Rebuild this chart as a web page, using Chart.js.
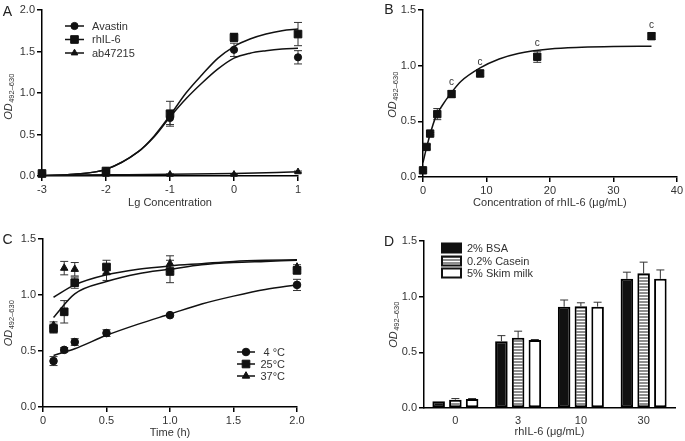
<!DOCTYPE html>
<html lang="en">
<head>
<meta charset="UTF-8">
<title>rhIL-6 ELISA panels</title>
<script src="https://cdn.jsdelivr.net/npm/chart.js@4.4.0/dist/chart.umd.min.js"></script>
<style>
  body { margin: 0; background: #fff; }
  .panel { position: absolute; }
</style>
</head>
<body>
<div class="panel" style="left:0;top:0"><canvas id="chartA" width="340" height="220"></canvas></div>
<div class="panel" style="left:340px;top:0"><canvas id="chartB" width="345" height="220"></canvas></div>
<div class="panel" style="left:0;top:220px"><canvas id="chartC" width="340" height="221"></canvas></div>
<div class="panel" style="left:340px;top:220px"><canvas id="chartD" width="345" height="221"></canvas></div>

<script>
// ---- panel A: Lg concentration ----
const aConc = [-3, -2, -1, 0, 1];
const aAvastin = [0.03, 0.06, 0.70, 1.52, 1.43];
const aAvastinErr = [0.01, 0.01, 0.08, 0.08, 0.08];
const aRhil6 = [0.03, 0.06, 0.75, 1.67, 1.71];
const aRhil6Err = [0.01, 0.01, 0.15, 0.05, 0.14];
const aAb47215 = [0.02, 0.02, 0.02, 0.02, 0.05];
const aAb47215Err = [0.005, 0.005, 0.005, 0.005, 0.01];
// fitted curves
const aFitX = [-3, -2.5, -2, -1.5, -1.25, -1, -0.75, -0.5, -0.25, 0, 0.25, 0.5, 0.75, 1];
const aFitRhil6 = [0.0, 0.02, 0.08, 0.29, 0.48, 0.73, 1.0, 1.22, 1.42, 1.56, 1.65, 1.71, 1.75, 1.77];
const aFitAvastin = [0.0, 0.02, 0.08, 0.29, 0.47, 0.71, 0.93, 1.12, 1.29, 1.42, 1.48, 1.51, 1.53, 1.54];
const aFitAbX = [-3, -2, -1, 0, 1];
const aFitAb = [0.01, 0.015, 0.02, 0.03, 0.05];

// ---- panel B: rhIL-6 concentration ----
const bConc = [0, 0.5625, 1.125, 2.25, 4.5, 9, 18, 36];
const bOD = [0.06, 0.27, 0.39, 0.565, 0.745, 0.93, 1.08, 1.265];
const bErr = [0.01, 0.02, 0.01, 0.05, 0.03, 0.03, 0.05, 0.03];
const bSig = ['', '', '', '', 'c', 'c', 'c', 'c'];
const bFitX = [0, 0.5, 1, 2, 3, 4.5, 6, 9, 12, 15, 20, 25, 30, 36];
const bFitY = [0.13, 0.25, 0.36, 0.54, 0.64, 0.76, 0.86, 0.98, 1.06, 1.11, 1.15, 1.165, 1.172, 1.175];

// ---- panel C: incubation time ----
const cTime = [0.083, 0.167, 0.25, 0.5, 1, 2];
const c4 = [0.41, 0.51, 0.58, 0.66, 0.82, 1.09];
const c4Err = [0.04, 0.02, 0.03, 0.03, 0.01, 0.05];
const c25 = [0.70, 0.85, 1.11, 1.25, 1.21, 1.22];
const c25Err = [0.04, 0.10, 0.05, 0.06, 0.10, 0.03];
const c37 = [0.73, 1.24, 1.23, 1.20, 1.28, 1.25];
const c37Err = [0.03, 0.06, 0.06, 0.07, 0.07, 0.02];
const cFitX = [0.083, 0.25, 0.5, 0.75, 1, 1.25, 1.5, 1.75, 2];
const cFit4 = [0.46, 0.52, 0.64, 0.74, 0.83, 0.92, 0.99, 1.05, 1.09];
const cFit25 = [0.80, 1.01, 1.12, 1.19, 1.23, 1.27, 1.29, 1.30, 1.31];
const cFit37 = [0.98, 1.09, 1.18, 1.23, 1.26, 1.28, 1.30, 1.31, 1.315];

// ---- panel D: blocking buffers ----
const dCats = ['0', '3', '10', '30'];
const dBSA = [0.06, 0.60, 0.91, 1.16];
const dBSAErr = [0, 0.05, 0.06, 0.06];
const dCasein = [0.075, 0.63, 0.915, 1.21];
const dCaseinErr = [0.01, 0.06, 0.03, 0.10];
const dSkim = [0.08, 0.61, 0.91, 1.16];
const dSkimErr = [0.005, 0.005, 0.04, 0.08];

const FONT = '"Liberation Sans", Arial, sans-serif';
const INK = '#111';
const TXT = '#333';
Chart.defaults.font.family = FONT;
Chart.defaults.font.size = 11;
Chart.defaults.color = TXT;
Chart.defaults.animation = false;

const fmt1 = v => v.toFixed(1);
const pts = (xs, ys) => xs.map((x, i) => ({ x: x, y: ys[i] }));

function axis(min, max, step, cb, size, title, tickPad) {
  return {
    type: 'linear', min: min, max: max,
    ticks: { stepSize: step, callback: cb, padding: tickPad || 2, color: TXT, font: { size: 11 } },
    grid: { drawOnChartArea: false, drawTicks: true, tickLength: 5, color: '#000', lineWidth: 1.5 },
    border: { display: true, color: '#000', width: 1.5 },
    title: title ? { display: true, text: title, color: TXT, font: { size: 11 }, padding: 0 } : { display: false },
    afterFit: s => { if (s.isHorizontal()) s.height = size; else s.width = size; }
  };
}

function markers(label, xs, ys, errs, style, r) {
  return {
    label: label, data: pts(xs, ys), errors: errs, showLine: false,
    pointStyle: style, pointRadius: r, pointHoverRadius: r,
    pointBackgroundColor: INK, pointBorderColor: INK, pointBorderWidth: 1,
    clip: false, order: 0
  };
}

function curve(xs, ys) {
  return {
    data: pts(xs, ys), showLine: true, pointRadius: 0, borderColor: INK, borderWidth: 1.5,
    cubicInterpolationMode: 'monotone', fill: false, order: 1
  };
}

function marker(ctx, style, x, y, r) {
  ctx.beginPath();
  if (style === 'circle') ctx.arc(x, y, r, 0, Math.PI * 2);
  else if (style === 'rect') { const s = r * Math.SQRT1_2; ctx.rect(x - s, y - s, 2 * s, 2 * s); }
  else { ctx.moveTo(x, y - r); ctx.lineTo(x + 0.866 * r, y + 0.5 * r); ctx.lineTo(x - 0.866 * r, y + 0.5 * r); ctx.closePath(); }
  ctx.fill();
  ctx.stroke();
}

// error bars drawn under the marks
const errorBars = {
  id: 'errorBars',
  beforeDatasetsDraw(chart) {
    const ctx = chart.ctx;
    const ys = chart.scales.y;
    ctx.save();
    ctx.strokeStyle = '#333';
    ctx.lineWidth = 1;
    chart.data.datasets.forEach((ds, di) => {
      if (!ds.errors) return;
      const meta = chart.getDatasetMeta(di);
      meta.data.forEach((el, i) => {
        const v = typeof ds.data[i] === 'object' ? ds.data[i].y : ds.data[i];
        const e = ds.errors[i];
        if (!e) return;
        const top = ys.getPixelForValue(v + e);
        const bot = ds.upOnly ? ys.getPixelForValue(v) : ys.getPixelForValue(v - e);
        const cap = ds.capHalf || 4;
        ctx.beginPath();
        ctx.moveTo(el.x, bot); ctx.lineTo(el.x, top);
        ctx.moveTo(el.x - cap, top); ctx.lineTo(el.x + cap, top);
        if (!ds.upOnly) { ctx.moveTo(el.x - cap, bot); ctx.lineTo(el.x + cap, bot); }
        ctx.stroke();
        if (ds.sig && ds.sig[i]) {
          ctx.fillStyle = TXT;
          ctx.font = '10px ' + FONT;
          ctx.textAlign = 'center';
          ctx.textBaseline = 'bottom';
          ctx.fillText(ds.sig[i], el.x, top - 3);
        }
      });
    });
    ctx.restore();
  }
};

// panel letter, y title with subscript, legend
const decor = {
  id: 'decor',
  afterDraw(chart, args, o) {
    const ctx = chart.ctx;
    ctx.save();
    ctx.fillStyle = '#222';
    ctx.font = '14px ' + FONT;
    ctx.textAlign = 'center';
    ctx.textBaseline = 'middle';
    ctx.fillText(o.letter, o.letterPos[0], o.letterPos[1]);

    ctx.save();
    ctx.translate(o.titlePos[0], o.titlePos[1]);
    ctx.rotate(-Math.PI / 2);
    const f1 = 'italic 11px ' + FONT, f2 = '7.5px ' + FONT, sub = '492\u2013630';
    ctx.font = f1; const w1 = ctx.measureText('OD').width;
    ctx.font = f2; const w2 = ctx.measureText(sub).width;
    const x0 = -(w1 + w2) / 2;
    ctx.textAlign = 'left';
    ctx.textBaseline = 'alphabetic';
    ctx.fillStyle = TXT;
    ctx.font = f1; ctx.fillText('OD', x0, 4);
    ctx.font = f2; ctx.fillText(sub, x0 + w1 + 0.5, 6);
    ctx.restore();

    const lg = o.legend;
    if (lg) {
      ctx.font = '11px ' + FONT;
      ctx.textBaseline = 'middle';
      lg.items.forEach((it, i) => {
        const y = lg.rows[i];
        ctx.strokeStyle = INK;
        ctx.fillStyle = INK;
        if (lg.kind === 'line') {
          ctx.lineWidth = 1.5;
          ctx.beginPath(); ctx.moveTo(lg.x0, y); ctx.lineTo(lg.x1, y); ctx.stroke();
          ctx.lineWidth = 1;
          marker(ctx, it.style, (lg.x0 + lg.x1) / 2, y, it.r);
        } else {
          ctx.fillStyle = it.fill;
          ctx.fillRect(lg.x0, y - 4.5, lg.x1 - lg.x0, 9);
          ctx.lineWidth = 2;
          ctx.strokeRect(lg.x0, y - 4.5, lg.x1 - lg.x0, 9);
        }
        ctx.fillStyle = TXT;
        ctx.textAlign = lg.align;
        ctx.fillText(it.label, lg.tx, y + 0.5);
      });
    }
    ctx.restore();
  }
};

// ---------- A ----------
new Chart(document.getElementById('chartA'), {
  type: 'scatter',
  data: {
    datasets: [
      markers('Avastin', aConc, aAvastin, aAvastinErr, 'circle', 3.6),
      markers('rhIL-6', aConc, aRhil6, aRhil6Err, 'rect', 5.4),
      markers('ab47215', aConc, aAb47215, aAb47215Err, 'triangle', 3.8),
      curve(aFitX, aFitRhil6),
      curve(aFitX, aFitAvastin),
      curve(aFitAbX, aFitAb)
    ]
  },
  options: {
    responsive: false,
    layout: { padding: { left: 0, right: 42, top: 10, bottom: 10 } },
    scales: {
      x: axis(-3, 1, 1, v => String(v), 34, 'Lg Concentration'),
      y: axis(0, 2, 0.5, fmt1, 42)
    },
    plugins: {
      legend: { display: false }, tooltip: { enabled: false },
      decor: {
        letter: 'A', letterPos: [7.5, 12], titlePos: [8, 97],
        legend: {
          kind: 'line', x0: 65, x1: 84, tx: 92, align: 'left', rows: [26, 39.5, 53],
          items: [
            { label: 'Avastin', style: 'circle', r: 3.6 },
            { label: 'rhIL-6', style: 'rect', r: 5.4 },
            { label: 'ab47215', style: 'triangle', r: 3.8 }
          ]
        }
      }
    }
  },
  plugins: [errorBars, decor]
});

// ---------- B ----------
const bPoints = markers('rhIL-6', bConc, bOD, bErr, 'rect', 5.2);
bPoints.sig = bSig;
new Chart(document.getElementById('chartB'), {
  type: 'scatter',
  data: { datasets: [bPoints, curve(bFitX, bFitY)] },
  options: {
    responsive: false,
    layout: { padding: { left: 0, right: 7, top: 10, bottom: 10 } },
    scales: {
      x: axis(0, 40, 10, v => String(v), 33, 'Concentration of rhIL-6 (\u03bcg/mL)'),
      y: axis(0, 1.5, 0.5, fmt1, 83)
    },
    plugins: {
      legend: { display: false }, tooltip: { enabled: false },
      decor: { letter: 'B', letterPos: [49, 10], titlePos: [52, 95] }
    }
  },
  plugins: [errorBars, decor]
});

// ---------- C ----------
new Chart(document.getElementById('chartC'), {
  type: 'scatter',
  data: {
    datasets: [
      markers('4 \u00b0C', cTime, c4, c4Err, 'circle', 3.8),
      markers('25\u00b0C', cTime, c25, c25Err, 'rect', 5.4),
      markers('37\u00b0C', cTime, c37, c37Err, 'triangle', 4.3),
      curve(cFitX, cFit4),
      curve(cFitX, cFit25),
      curve(cFitX, cFit37)
    ]
  },
  options: {
    responsive: false,
    layout: { padding: { left: 0, right: 43, top: 19, bottom: 1 } },
    scales: {
      x: axis(0, 2, 0.5, v => (v === 0 ? '0' : v.toFixed(1)), 33, 'Time (h)'),
      y: axis(0, 1.5, 0.5, fmt1, 43)
    },
    plugins: {
      legend: { display: false }, tooltip: { enabled: false },
      decor: {
        letter: 'C', letterPos: [7.5, 20], titlePos: [8, 103.5],
        legend: {
          kind: 'line', x0: 237, x1: 255, tx: 285, align: 'right', rows: [132, 144, 156],
          items: [
            { label: '4 \u00b0C', style: 'circle', r: 3.8 },
            { label: '25\u00b0C', style: 'rect', r: 5.4 },
            { label: '37\u00b0C', style: 'triangle', r: 4.3 }
          ]
        }
      }
    }
  },
  plugins: [errorBars, decor]
});

// ---------- D ----------
const dCtx = document.getElementById('chartD').getContext('2d');
function stripes() {
  const c = document.createElement('canvas');
  c.width = 4; c.height = 3;
  const g = c.getContext('2d');
  g.fillStyle = '#fff'; g.fillRect(0, 0, 4, 3);
  g.fillStyle = '#8e8e8e'; g.fillRect(0, 0, 4, 2);
  return dCtx.createPattern(c, 'repeat');
}
const caseinFill = stripes();
function bars(label, vals, errs, fill) {
  return {
    label: label, data: vals, errors: errs, upOnly: true, capHalf: 4,
    backgroundColor: fill, borderColor: '#000', borderWidth: 2, borderSkipped: false,
    barPercentage: 0.75, categoryPercentage: 0.8
  };
}
new Chart(dCtx, {
  type: 'bar',
  data: {
    labels: dCats,
    datasets: [
      bars('2% BSA', dBSA, dBSAErr, '#111'),
      bars('0.2% Casein', dCasein, dCaseinErr, caseinFill),
      bars('5% Skim milk', dSkim, dSkimErr, '#fff')
    ]
  },
  options: {
    responsive: false,
    layout: { padding: { left: 0, right: 10, top: 21, bottom: 2 } },
    scales: {
      x: {
        type: 'category',
        ticks: { padding: 6, color: TXT, font: { size: 11 } },
        grid: { display: false, drawTicks: false, tickLength: 0 },
        border: { display: true, color: '#000', width: 1.5 },
        title: { display: true, text: 'rhIL-6 (\u03bcg/mL)', color: TXT, font: { size: 11 }, padding: 0 },
        afterFit: s => { s.height = 31; }
      },
      y: axis(0, 1.5, 0.5, fmt1, 84)
    },
    plugins: {
      legend: { display: false }, tooltip: { enabled: false },
      decor: {
        letter: 'D', letterPos: [49, 22], titlePos: [53, 105],
        legend: {
          kind: 'box', x0: 102, x1: 121, tx: 127, align: 'left', rows: [28, 41, 53],
          items: [
            { label: '2% BSA', fill: '#111' },
            { label: '0.2% Casein', fill: caseinFill },
            { label: '5% Skim milk', fill: '#fff' }
          ]
        }
      }
    }
  },
  plugins: [errorBars, decor]
});
</script>
</body>
</html>
